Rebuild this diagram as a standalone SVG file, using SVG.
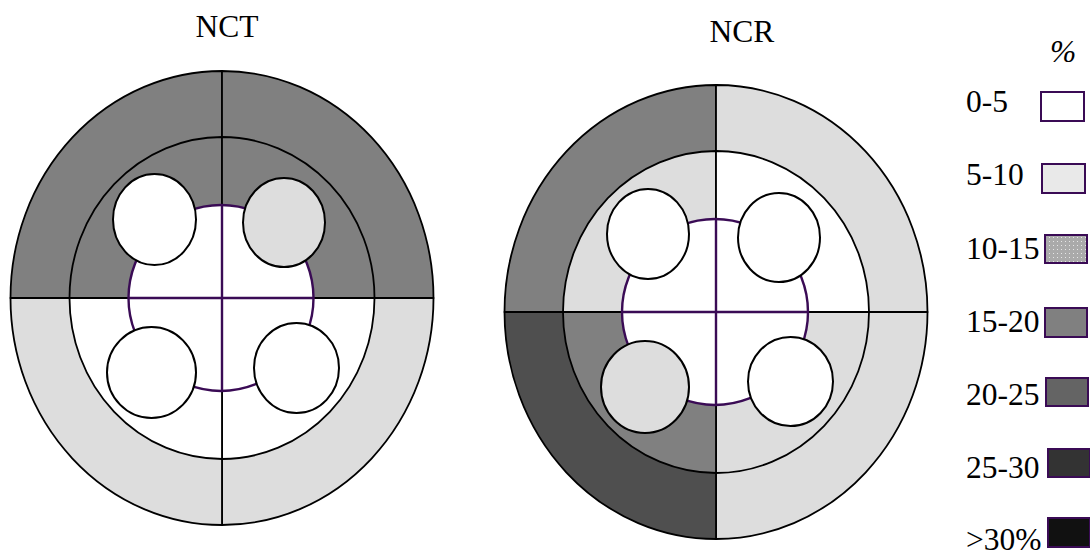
<svg xmlns="http://www.w3.org/2000/svg" width="1090" height="556" viewBox="0 0 1090 556">
<style>
text{font-family:"Liberation Serif","Times New Roman",serif;font-size:31.5px;fill:#000}
.sec{stroke:#000;stroke-width:1.8;stroke-linejoin:round}
.inner{fill:#fff;stroke:#3a0b55;stroke-width:2.4}
.cross{stroke:#3a0b55;stroke-width:2.4;fill:none}
.hole{stroke:#000;stroke-width:2}
.key{stroke:#3a0b55;stroke-width:2}
.w{fill:#fff}.l{fill:#dddddd}.m{fill:#808080}.d{fill:#4f4f4f}
</style>
<defs>
<pattern id="dots" width="4" height="4" patternUnits="userSpaceOnUse">
<rect width="4" height="4" fill="#aaaaaa"/>
<rect x="1" y="1" width="1" height="1" fill="#e6e6e6"/>
</pattern>
</defs>

<g id="nct">
<text x="227" y="37" text-anchor="middle">NCT</text>
<g id="nct-outer">
<path class="sec m" d="M222,298 L10.5,298 A211.5,227 0 0 1 222,71 Z"/>
<path class="sec m" d="M222,298 L222,71 A211.5,227 0 0 1 433.5,298 Z"/>
<path class="sec l" d="M222,298 L433.5,298 A211.5,227 0 0 1 222,525 Z"/>
<path class="sec l" d="M222,298 L222,525 A211.5,227 0 0 1 10.5,298 Z"/>
</g>
<g id="nct-middle">
<path class="sec m" d="M222,298 L69.5,298 A152.5,161 0 0 1 222,137 Z"/>
<path class="sec m" d="M222,298 L222,137 A152.5,161 0 0 1 374.5,298 Z"/>
<path class="sec w" d="M222,298 L374.5,298 A152.5,161 0 0 1 222,459 Z"/>
<path class="sec w" d="M222,298 L222,459 A152.5,161 0 0 1 69.5,298 Z"/>
</g>
<g id="nct-core">
<ellipse class="inner" cx="221" cy="298" rx="92.5" ry="93"/>
<path class="cross" d="M128.5,298 H313.5 M222,205 V391"/>
</g>
<g id="nct-holes">
<ellipse class="hole w" cx="154.5" cy="219.5" rx="41.5" ry="45.5"/>
<ellipse class="hole l" cx="284" cy="222.5" rx="41" ry="44.5"/>
<ellipse class="hole w" cx="151.5" cy="372.5" rx="44.5" ry="45.5"/>
<ellipse class="hole w" cx="296.5" cy="368" rx="42.5" ry="45"/>
</g>
</g>

<g id="ncr">
<text x="742" y="42" text-anchor="middle">NCR</text>
<g id="ncr-outer">
<path class="sec m" d="M716,312 L504.5,312 A211.5,227 0 0 1 716,85 Z"/>
<path class="sec l" d="M716,312 L716,85 A211.5,227 0 0 1 927.5,312 Z"/>
<path class="sec l" d="M716,312 L927.5,312 A211.5,227 0 0 1 716,539 Z"/>
<path class="sec d" d="M716,312 L716,539 A211.5,227 0 0 1 504.5,312 Z"/>
</g>
<g id="ncr-middle">
<path class="sec l" d="M716,312 L563,312 A153,161 0 0 1 716,151 Z"/>
<path class="sec w" d="M716,312 L716,151 A153,161 0 0 1 869,312 Z"/>
<path class="sec l" d="M716,312 L869,312 A153,161 0 0 1 716,473 Z"/>
<path class="sec m" d="M716,312 L716,473 A153,161 0 0 1 563,312 Z"/>
</g>
<g id="ncr-core">
<ellipse class="inner" cx="715" cy="312" rx="93" ry="93"/>
<path class="cross" d="M622,312 H808 M716,219 V405"/>
</g>
<g id="ncr-holes">
<ellipse class="hole w" cx="648" cy="234" rx="41" ry="45"/>
<ellipse class="hole w" cx="779" cy="237.5" rx="41" ry="44.5"/>
<ellipse class="hole l" cx="645" cy="387" rx="44" ry="46"/>
<ellipse class="hole w" cx="790.5" cy="381.5" rx="42.5" ry="44.5"/>
</g>
</g>

<g id="legend">
<text x="1050" y="62" font-style="italic">%</text>
<text x="966" y="112">0-5</text>
<rect class="key" x="1041" y="92" width="43" height="29" fill="#ffffff"/>
<text x="966" y="185">5-10</text>
<rect class="key" x="1042" y="164" width="43" height="29" fill="#e9e9e9"/>
<text x="966" y="259">10-15</text>
<rect class="key" x="1045" y="235" width="42" height="28" fill="url(#dots)"/>
<text x="966" y="332">15-20</text>
<rect class="key" x="1045" y="308" width="42" height="29" fill="#808080"/>
<text x="966" y="405">20-25</text>
<rect class="key" x="1046" y="378" width="42" height="28" fill="#646464"/>
<text x="966" y="478">25-30</text>
<rect class="key" x="1048" y="449" width="42" height="28" fill="#333333"/>
<text x="966" y="550">&gt;30%</text>
<rect class="key" x="1048" y="518" width="42" height="29" fill="#111111"/>
</g>
</svg>
